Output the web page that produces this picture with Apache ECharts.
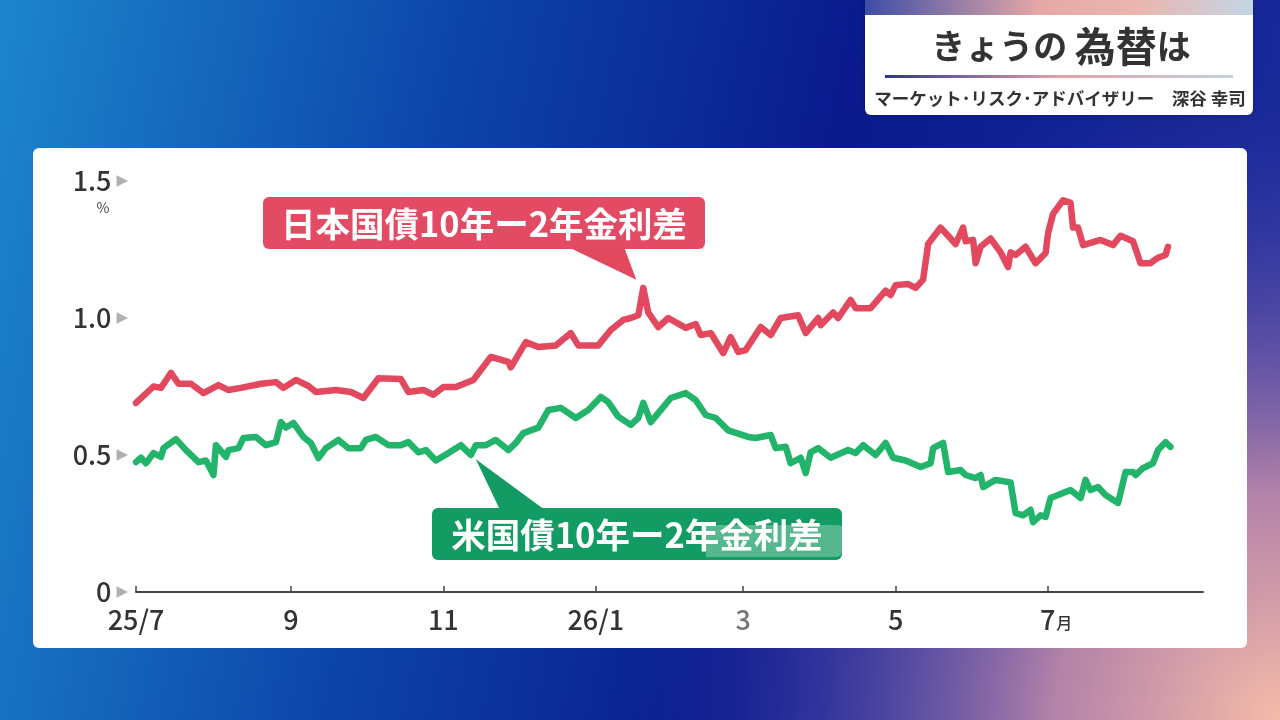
<!DOCTYPE html>
<html>
<head>
<meta charset="utf-8">
<script src="https://cdn.jsdelivr.net/npm/echarts@6/dist/echarts.min.js"></script>
<style>
  html, body { margin: 0; padding: 0; }
  #chart { width: 1280px; height: 720px; }
</style>
</head>
<body>
<div id="chart"></div>
<script>
// 日本国債 10年-2年 金利差
var jgbDates = [
  '2025-07-01','2025-07-08','2025-07-11','2025-07-15','2025-07-18','2025-07-23','2025-07-28','2025-08-03','2025-08-07','2025-08-12',
  '2025-08-20','2025-08-26','2025-08-29','2025-09-03','2025-09-08','2025-09-11','2025-09-19','2025-09-25','2025-09-30','2025-10-06',
  '2025-10-15','2025-10-18','2025-10-24','2025-10-28','2025-11-01','2025-11-06','2025-11-13','2025-11-20','2025-11-27','2025-11-28',
  '2025-12-04','2025-12-09','2025-12-16','2025-12-22','2025-12-25','2026-01-02','2026-01-07','2026-01-12','2026-01-15','2026-01-18',
  '2026-01-20','2026-01-22','2026-01-26','2026-01-30','2026-02-06','2026-02-10','2026-02-12','2026-02-16','2026-02-21','2026-02-24',
  '2026-02-27','2026-03-02','2026-03-08','2026-03-12','2026-03-16','2026-03-23','2026-03-26','2026-03-31','2026-04-01','2026-04-06',
  '2026-04-08','2026-04-13','2026-04-15','2026-04-21','2026-04-27','2026-04-29','2026-05-01','2026-05-06','2026-05-09','2026-05-12',
  '2026-05-14','2026-05-19','2026-05-22','2026-05-25','2026-05-28','2026-05-29','2026-06-01','2026-06-02','2026-06-04','2026-06-08',
  '2026-06-12','2026-06-15','2026-06-16','2026-06-18','2026-06-22','2026-06-26','2026-06-30','2026-07-01','2026-07-03','2026-07-07',
  '2026-07-10','2026-07-11','2026-07-13','2026-07-15','2026-07-22','2026-07-27','2026-07-30','2026-08-04','2026-08-07','2026-08-11',
  '2026-08-14','2026-08-17','2026-08-18'
];
var jgbValues = [
  0.69,0.75,0.745,0.80,0.76,0.76,0.726,0.755,0.737,0.745,
  0.76,0.766,0.745,0.774,0.752,0.73,0.737,0.73,0.708,0.78,
  0.777,0.73,0.737,0.72,0.748,0.748,0.774,0.858,0.84,0.82,
  0.912,0.894,0.90,0.945,0.90,0.90,0.956,0.993,1.00,1.01,
  1.11,1.02,0.967,1.00,0.964,0.978,0.938,0.945,0.872,0.93,
  0.876,0.883,0.967,0.938,1.00,1.01,0.945,1.00,0.974,1.02,
  1.00,1.066,1.036,1.036,1.10,1.084,1.12,1.124,1.11,1.14,
  1.27,1.33,1.30,1.27,1.33,1.28,1.285,1.20,1.26,1.29,
  1.24,1.186,1.24,1.23,1.26,1.20,1.237,1.31,1.38,1.43,
  1.42,1.33,1.33,1.266,1.285,1.266,1.30,1.28,1.20,1.20,
  1.22,1.23,1.26
];

// 米国債 10年-2年 金利差
var ustDates = [
  '2025-07-01','2025-07-03','2025-07-05','2025-07-08','2025-07-11','2025-07-12','2025-07-17','2025-07-21','2025-07-26','2025-07-29',
  '2025-08-01','2025-08-02','2025-08-06','2025-08-07','2025-08-11','2025-08-13','2025-08-18','2025-08-22','2025-08-26','2025-08-28',
  '2025-08-30','2025-09-02','2025-09-06','2025-09-09','2025-09-12','2025-09-15','2025-09-20','2025-09-24','2025-09-29','2025-10-01',
  '2025-10-05','2025-10-10','2025-10-15','2025-10-18','2025-10-22','2025-10-25','2025-10-29','2025-11-03','2025-11-08','2025-11-12',
  '2025-11-14','2025-11-18','2025-11-22','2025-11-27','2025-11-30','2025-12-03','2025-12-09','2025-12-13','2025-12-18','2025-12-24',
  '2025-12-29','2026-01-03','2026-01-06','2026-01-10','2026-01-15','2026-01-18','2026-01-20','2026-01-23','2026-01-27','2026-01-31',
  '2026-02-06','2026-02-10','2026-02-14','2026-02-18','2026-02-23','2026-03-03','2026-03-06','2026-03-12','2026-03-14','2026-03-18',
  '2026-03-20','2026-03-24','2026-03-26','2026-03-28','2026-03-31','2026-04-05','2026-04-12','2026-04-15','2026-04-18','2026-04-23',
  '2026-04-27','2026-04-30','2026-05-05','2026-05-11','2026-05-15','2026-05-16','2026-05-20','2026-05-22','2026-05-27','2026-05-29',
  '2026-06-02','2026-06-04','2026-06-05','2026-06-10','2026-06-16','2026-06-18','2026-06-21','2026-06-24','2026-06-25','2026-06-28',
  '2026-06-30','2026-07-02','2026-07-07','2026-07-10','2026-07-14','2026-07-16','2026-07-18','2026-07-21','2026-07-24','2026-07-29',
  '2026-08-01','2026-08-04','2026-08-05','2026-08-08','2026-08-12','2026-08-14','2026-08-17','2026-08-19'
];
var ustValues = [
  0.474,0.49,0.47,0.507,0.493,0.525,0.558,0.518,0.474,0.48,
  0.427,0.536,0.493,0.518,0.525,0.562,0.566,0.536,0.547,0.62,
  0.60,0.617,0.566,0.544,0.489,0.525,0.555,0.525,0.525,0.555,
  0.566,0.536,0.536,0.547,0.51,0.518,0.48,0.507,0.536,0.50,
  0.536,0.536,0.555,0.518,0.544,0.58,0.60,0.664,0.672,0.635,
  0.664,0.712,0.693,0.64,0.61,0.635,0.69,0.62,0.664,0.708,
  0.726,0.70,0.646,0.635,0.59,0.566,0.562,0.573,0.525,0.53,
  0.47,0.49,0.434,0.51,0.525,0.49,0.518,0.507,0.536,0.50,
  0.544,0.49,0.48,0.456,0.47,0.525,0.544,0.438,0.445,0.427,
  0.416,0.427,0.383,0.409,0.40,0.288,0.28,0.30,0.255,0.28,
  0.274,0.343,0.361,0.372,0.343,0.409,0.372,0.383,0.354,0.325,
  0.438,0.438,0.427,0.452,0.47,0.518,0.547,0.53
];

// 目盛り
var xTickDates = ['2025-07-01','2025-09-01','2025-11-01','2026-01-01','2026-03-01','2026-05-01','2026-07-01'];
var xTickLabels = ['25/7','9','11','26/1','3','5','7月'];
var xMinDate = '2025-07-01';
var xMaxDate = '2026-09-01';

var FONT = '"Noto Sans CJK JP", "Noto Sans", sans-serif';
var RED = '#e2495f';
var GREEN = '#22b46a';

function toTime(s) {
  var p = s.split('-');
  return new Date(+p[0], +p[1] - 1, +p[2]).getTime();
}

var tickTimes = xTickDates.map(toTime);

function pairs(dates, values) {
  return dates.map(function (d, i) { return [toTime(d), values[i]]; });
}

var chart = echarts.init(document.getElementById('chart'));

chart.setOption({
  animation: false,
  grid: { left: 136, right: 77, top: 181, bottom: 128 },
  xAxis: {
    type: 'value',
    min: toTime(xMinDate),
    max: toTime(xMaxDate),
    axisLine: { show: true, lineStyle: { color: '#444', width: 2 } },
    axisTick: { show: true, inside: true, length: 6, lineStyle: { color: '#444', width: 1.5 }, customValues: tickTimes },
    splitLine: { show: false },
    axisLabel: {
      customValues: tickTimes,
      margin: 14,
      fontFamily: FONT,
      fontSize: 27,
      fontWeight: 500,
      color: '#333',
      formatter: function (val) {
        var idx = -1;
        for (var i = 0; i < tickTimes.length; i++) {
          if (Math.abs(tickTimes[i] - val) < 43200000) { idx = i; break; }
        }
        var s = idx >= 0 ? xTickLabels[idx] : '';
        if (s === '3') return '{g|3}';
        if (s.indexOf('月') >= 0) return '{a|' + s.replace('月', '') + '}{m|月}';
        return s;
      },
      rich: {
        a: { fontFamily: FONT, fontSize: 27, fontWeight: 500, color: '#333', padding: [0, 0, 0, 16] },
        m: { fontFamily: FONT, fontSize: 16, fontWeight: 500, color: '#333', padding: [7, 0, 0, 1] },
        g: { fontFamily: FONT, fontSize: 27, fontWeight: 500, color: '#777' }
      }
    }
  },
  yAxis: {
    type: 'value',
    min: 0,
    max: 1.5,
    interval: 0.5,
    axisLine: { show: false },
    axisTick: { show: false },
    splitLine: { show: false },
    axisLabel: {
      margin: 8,
      formatter: function (v) {
        var s = v === 0 ? '0' : v.toFixed(1);
        return '{n|' + s + '}{t|▶}';
      },
      rich: {
        n: { fontFamily: FONT, fontSize: 27, fontWeight: 500, color: '#333' },
        t: { fontFamily: 'DejaVu Sans', fontSize: 15, color: '#b0b0b0', padding: [0, 0, 0, 5] }
      }
    }
  },
  series: [
    {
      name: '日本国債10年ー2年金利差',
      type: 'line',
      data: pairs(jgbDates, jgbValues),
      showSymbol: false,
      lineStyle: { color: RED, width: 6.5, cap: 'round', join: 'round' },
      z: 3
    },
    {
      name: '米国債10年ー2年金利差',
      type: 'line',
      data: pairs(ustDates, ustValues),
      showSymbol: false,
      lineStyle: { color: GREEN, width: 6.5, cap: 'round', join: 'round' },
      z: 3
    }
  ]
});

// 吹き出しの先端はデータ点から求める
var redTip = chart.convertToPixel({ gridIndex: 0 }, [toTime('2026-01-20'), 1.11]);
var greenTip = chart.convertToPixel({ gridIndex: 0 }, [toTime('2025-11-14'), 0.536]);

chart.setOption({
  graphic: [
    // 背景
    {
      type: 'rect', z: -20, silent: true,
      shape: { x: 0, y: 0, width: 1280, height: 720 },
      style: {
        fill: new echarts.graphic.LinearGradient(0, 0, 1, 0.35, [
          { offset: 0, color: '#1c86cc' },
          { offset: 0.35, color: '#0c45aa' },
          { offset: 0.65, color: '#0a1a8e' },
          { offset: 1, color: '#1a2a9a' }
        ])
      }
    },
    {
      type: 'rect', z: -19, silent: true,
      shape: { x: 0, y: 0, width: 1280, height: 720 },
      style: {
        fill: new echarts.graphic.RadialGradient(1, 1, 0.9, [
          { offset: 0, color: 'rgba(246,188,168,1)' },
          { offset: 0.35, color: 'rgba(196,140,170,0.9)' },
          { offset: 0.7, color: 'rgba(110,90,175,0.4)' },
          { offset: 1, color: 'rgba(40,50,160,0)' }
        ])
      }
    },
    // 白いパネル
    {
      type: 'rect', z: -10, silent: true,
      shape: { x: 33, y: 148, width: 1214, height: 500, r: 6 },
      style: { fill: '#ffffff' }
    },
    // タイトル枠
    {
      type: 'rect', z: -9, silent: true,
      shape: { x: 865, y: 0, width: 388, height: 115, r: [0, 0, 6, 6] },
      style: { fill: '#ffffff', shadowBlur: 6, shadowColor: 'rgba(0,0,0,0.25)' }
    },
    {
      type: 'rect', z: -8, silent: true,
      shape: { x: 865, y: 0, width: 388, height: 15 },
      style: {
        fill: new echarts.graphic.LinearGradient(0, 0, 1, 0, [
          { offset: 0, color: '#3c4ea6' },
          { offset: 0.45, color: '#e6a8a6' },
          { offset: 0.7, color: '#eab6ae' },
          { offset: 1, color: '#c4d6e6' }
        ])
      }
    },
    {
      type: 'rect', z: -8, silent: true,
      shape: { x: 885, y: 75, width: 348, height: 3 },
      style: {
        fill: new echarts.graphic.LinearGradient(0, 0, 1, 0, [
          { offset: 0, color: '#2a3694' },
          { offset: 0.5, color: '#e2a2a2' },
          { offset: 1, color: '#c2d2e2' }
        ])
      }
    },
    {
      type: 'text', z: -7, silent: true,
      x: 1061, y: 46,
      style: {
        text: '{s|きょうの }{b|為替}{s|は}',
        align: 'center', verticalAlign: 'middle',
        rich: {
          s: { fontFamily: FONT, fontSize: 34, fontWeight: 'bold', fill: '#333' },
          b: { fontFamily: FONT, fontSize: 41, fontWeight: 'bold', fill: '#333' }
        }
      }
    },
    {
      type: 'text', z: -7, silent: true,
      x: 1060, y: 98,
      style: {
        text: 'マーケット･リスク･アドバイザリー　深谷 幸司',
        align: 'center', verticalAlign: 'middle',
        fontFamily: FONT, fontSize: 17.5, fontWeight: 'bold', fill: '#333'
      }
    },
    // 単位
    {
      type: 'text', z: 5, silent: true,
      x: 103, y: 208,
      style: { text: '%', align: 'center', verticalAlign: 'middle', fontFamily: FONT, fontSize: 14, fill: '#444' }
    },
    // 日本国債ラベル
    {
      type: 'polygon', z: 50, silent: true,
      shape: { points: [[568, 247], [624, 247], [redTip[0] - 7, redTip[1] - 8]] },
      style: { fill: RED }
    },
    {
      type: 'rect', z: 51, silent: true,
      shape: { x: 263, y: 197, width: 442, height: 52, r: 6 },
      style: { fill: '#e34a63' }
    },
    {
      type: 'text', z: 52, silent: true,
      x: 484, y: 224,
      style: {
        text: '日本国債10年ー2年金利差',
        align: 'center', verticalAlign: 'middle',
        fontFamily: FONT, fontSize: 34.5, fontWeight: 'bold', fill: '#ffffff'
      }
    },
    // 米国債ラベル
    {
      type: 'polygon', z: 50, silent: true,
      shape: { points: [[500, 510], [545, 510], [greenTip[0], greenTip[1] + 14]] },
      style: { fill: '#129c63' }
    },
    {
      type: 'rect', z: 51, silent: true,
      shape: { x: 432, y: 508, width: 410, height: 52, r: 6 },
      style: { fill: '#129c63' }
    },
    {
      type: 'rect', z: 52, silent: true,
      shape: { x: 706, y: 525, width: 136, height: 32, r: [0, 4, 6, 0] },
      style: { fill: 'rgba(255,255,255,0.28)' }
    },
    {
      type: 'text', z: 53, silent: true,
      x: 637, y: 535,
      style: {
        text: '米国債10年ー2年金利差',
        align: 'center', verticalAlign: 'middle',
        fontFamily: FONT, fontSize: 34.5, fontWeight: 'bold', fill: '#ffffff'
      }
    }
  ]
});
</script>
</body>
</html>
